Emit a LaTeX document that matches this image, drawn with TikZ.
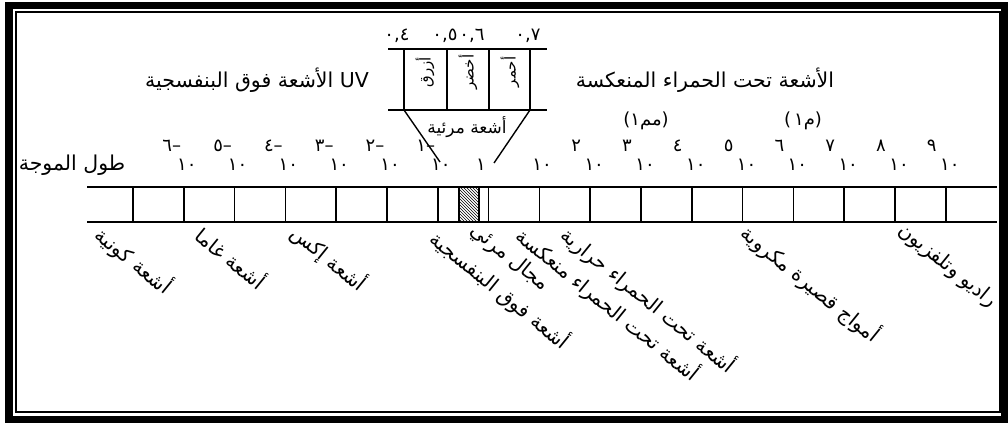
\documentclass[tikz,border=0pt]{standalone}
\usepackage{fontspec}
\newfontfamily\arabicfont[Script=Arabic]{DejaVu Sans}
\newfontfamily\latinfont{DejaVu Sans}
\TeXXeTstate=1
\usetikzlibrary{patterns}

\begin{document}
\begin{tikzpicture}[x=1pt, y=-1pt,
        ar/.style={font=\arabicfont\fontsize{20.5}{24}\selectfont, inner sep=1pt},
        small/.style={font=\arabicfont\fontsize{15}{17}\selectfont, inner sep=0pt},
        num/.style={font=\arabicfont\fontsize{18}{20}\selectfont, inner sep=0pt},
        band/.style={ar, font=\arabicfont\fontsize{20}{24}\selectfont, rotate=-39, anchor=north west, inner sep=0pt},
        bar/.style={line width=1.6pt}]

      \useasboundingbox (0,0) rectangle (1008,423);

      % frame
      \draw[line width=7.5pt] (9,5.5) rectangle (1005,419.5);
      \draw[line width=1.5pt] (16,12) rectangle (1000,412);

      % spectrum bar
      \draw[bar] (87,187) -- (997,187) (87,222) -- (997,222);
      \foreach \i in {0,...,16}
        \draw[bar] (133+50.8*\i,187) -- (133+50.8*\i,222);
      \draw[line width=1.2pt, pattern=north west lines] (459,187) rectangle (479,222);

      % wavelength scale
      \node[ar] (wl) at (72,165) {\beginR طول الموجة\endR};
      \foreach \i/\e in {1/٦,2/٥,3/٤,4/٣,5/٢,6/١} {
        \node[num] (e\i) at (133+50.8*\i-12,146) {\hbox{\e}\hbox{–}};
        \node[num] (b\i) at (133+50.8*\i+3,165) {١٠};
      }
      \node[num] (b7) at (481,165) {١};
      \node[num] (b8) at (542,165) {١٠};
      \foreach \i/\e in {9/٢,10/٣,11/٤,12/٥,13/٦,14/٧,15/٨,16/٩} {
        \node[num] (e\i) at (133+50.8*\i-14,146) {\e};
        \node[num] (b\i) at (133+50.8*\i+4,165) {١٠};
      }
      \node[num] (mm) at (646,121) {\hbox{\latinfont(}\hbox{١}\hbox{مم}\hbox{\latinfont)}};
      \node[num] (m) at (803,121) {\hbox{\latinfont(\,}\hbox{١}\hbox{م}\hbox{\latinfont)}};

      % band names
      \node[ar] (uv) at (257,80) {\beginR\beginL UV\endL{} الأشعة فوق البنفسجية\endR};
      \node[ar] (ir) at (705,80) {\beginR الأشعة تحت الحمراء المنعكسة\endR};

      % visible light
      \draw[bar] (388,49) -- (547,49) (388,110) -- (547,110);
      \foreach \x in {404,447,489,530}
        \draw[bar] (\x,49) -- (\x,110);
      \node[num] (v4) at (397,36) {\hbox{٠},\hbox{٤}};
      \node[num] (v5) at (445,36) {\hbox{٠},\hbox{٥}};
      \node[num] (v6) at (472,36) {\hbox{٠},\hbox{٦}};
      \node[num] (v7) at (528,36) {\hbox{٠},\hbox{٧}};
      \node[small, rotate=90] (blue) at (425,72) {أزرق};
      \node[small, rotate=90] (green) at (468,72) {أخضر};
      \node[small, rotate=90] (red) at (510,72) {أحمر};
      \node[ar, font=\arabicfont\fontsize{17}{19}\selectfont] (vis) at (467,127) {\beginR أشعة مرئية\endR};
      \draw[line width=1.4pt] (404,110) -- (440,162);
      \draw[line width=1.4pt] (530,110) -- (494,163);

      % slanted labels
      \node[band] (cos) at (106,222) {\beginR أشعة كونية\endR};
      \node[band] (gam) at (206,223) {\beginR أشعة غاما\endR};
      \node[band] (xr) at (302,220) {\beginR أشعة إكس\endR};
      \node[band] (uvr) at (441,226) {\beginR أشعة فوق البنفسجية\endR};
      \node[band] (visr) at (479,220) {\beginR مجال مرئي\endR};
      \node[band] (irr) at (527,223) {\beginR أشعة تحت الحمراء منعكسة\endR};
      \node[band] (irt) at (572,222) {\beginR أشعة تحت الحمراء حرارية\endR};
      \node[band] (mw) at (752,220) {\beginR أمواج قصيرة مكروية\endR};
      \node[band] (tv) at (907,220) {\beginR راديو وتلفزيون\endR};
    \end{tikzpicture}
\end{document}
